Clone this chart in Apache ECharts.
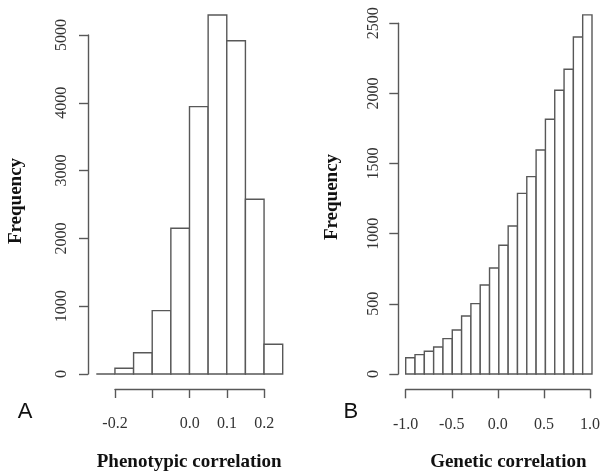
<!DOCTYPE html>
<html lang="en">
<head>
    <meta charset="utf-8">
    <title>Phenotypic and genetic correlation histograms</title>
    <script src="https://cdn.jsdelivr.net/npm/echarts@6/dist/echarts.min.js"></script>
    <style>
        html, body { margin: 0; padding: 0; background: #fff; }
        #chart { width: 603px; height: 476px; }
    </style>
</head>
<body>
<div id="chart"></div>
<script type="text/javascript">
    // panel A: phenotypic correlation, bin starts (width 0.05) and counts
    var phenoStarts = [-0.25, -0.2, -0.15, -0.1, -0.05, 0.0, 0.05, 0.1, 0.15, 0.2];
    var phenoWidth = 0.05;
    var phenoCounts = [0, 85, 314, 934, 2149, 3943, 5295, 4916, 2577, 438];
    var phenoXLabels = [-0.2, 0.0, 0.1, 0.2];   // R dropped -0.1 (overlap)
    var phenoYTicks = [0, 1000, 2000, 3000, 4000, 5000];

    // panel B: genetic correlation, bin starts (width 0.1) and counts
    var genStarts = [-1.0, -0.9, -0.8, -0.7, -0.6, -0.5, -0.4, -0.3, -0.2, -0.1,
                     0.0, 0.1, 0.2, 0.3, 0.4, 0.5, 0.6, 0.7, 0.8, 0.9];
    var genWidth = 0.1;
    var genCounts = [116, 138, 162, 193, 252, 314, 414, 502, 635, 756,
                     918, 1055, 1288, 1407, 1597, 1816, 2023, 2173, 2403, 2560];
    var genXLabels = [-1.0, -0.5, 0.0, 0.5, 1.0];
    var genYTicks = [0, 500, 1000, 1500, 2000, 2500];

    var LINE = '#585858';
    var TXT = '#333';
    var SERIF = '"Liberation Serif", "DejaVu Serif", serif';

    function histData(starts, width, counts) {
        var out = [];
        for (var i = 0; i < starts.length; i++) {
            out.push([starts[i], starts[i] + width, counts[i]]);
        }
        return out;
    }

    function renderBar(params, api) {
        var p0 = api.coord([api.value(0), 0]);
        var p1 = api.coord([api.value(1), api.value(2)]);
        return {
            type: 'rect',
            shape: { x: p0[0], y: p1[1], width: p1[0] - p0[0], height: p0[1] - p1[1] },
            style: { fill: '#fff', stroke: LINE, lineWidth: 1.4 }
        };
    }

    function inList(list, v) {
        return list.some(function (t) { return Math.abs(t - v) < 1e-9; });
    }

    function axisX(gridIndex, min, max, step, labels, offset) {
        return {
            type: 'value', gridIndex: gridIndex, min: min, max: max, interval: step,
            offset: offset, splitLine: { show: false },
            axisLine: { show: true, onZero: false, lineStyle: { color: LINE, width: 1.4 } },
            axisTick: { show: true, length: 9, lineStyle: { color: LINE, width: 1.4 } },
            axisLabel: {
                margin: 27, color: TXT, fontFamily: SERIF, fontSize: 16,
                formatter: function (v) { return inList(labels, v) ? v.toFixed(1) : ''; }
            }
        };
    }

    function axisY(gridIndex, ticks, offset, margin) {
        return {
            type: 'value', gridIndex: gridIndex, min: ticks[0], max: ticks[ticks.length - 1],
            interval: ticks[1] - ticks[0], offset: offset, splitLine: { show: false },
            axisLine: { show: true, onZero: false, lineStyle: { color: LINE, width: 1.4 } },
            axisTick: { show: true, length: 9, lineStyle: { color: LINE, width: 1.4 } },
            axisLabel: {
                rotate: 90, margin: margin, color: TXT, fontFamily: SERIF, fontSize: 16,
                formatter: function (v) { return String(v); }
            }
        };
    }

    function hiddenAxis(gridIndex, min, max) {
        return { type: 'value', gridIndex: gridIndex, min: min, max: max, show: false,
                 splitLine: { show: false } };
    }

    var chart = echarts.init(document.getElementById('chart'), null, { renderer: 'canvas' });
    var option = {
        animation: false,
        backgroundColor: '#fff',
        grid: [
            // 0: panel A data area, 1: panel A axes
            { left: 96.3, right: 320.3, top: 1.1, bottom: 102 },
            { left: 115, right: 338.7, top: 35, bottom: 102 },
            // 2: panel B data area, 3: panel B axes
            { left: 405.7, right: 11, top: 9.3, bottom: 102 },
            { left: 405.7, right: 11, top: 23.3, bottom: 102 }
        ],
        xAxis: [
            hiddenAxis(0, -0.25, 0.25),
            axisX(1, -0.2, 0.2, 0.1, phenoXLabels, 15),
            hiddenAxis(2, -1, 1),
            axisX(3, -1, 1, 0.5, genXLabels, 15.3)
        ],
        yAxis: [
            hiddenAxis(0, 0, 5500),
            axisY(1, phenoYTicks, 27, 18),
            hiddenAxis(2, 0, 2600),
            axisY(3, genYTicks, 7.4, 17)
        ],
        series: [
            { type: 'custom', xAxisIndex: 0, yAxisIndex: 0, clip: false,
              renderItem: renderBar, data: histData(phenoStarts, phenoWidth, phenoCounts) },
            { type: 'custom', xAxisIndex: 2, yAxisIndex: 2, clip: false,
              renderItem: renderBar, data: histData(genStarts, genWidth, genCounts) }
        ],
        graphic: [
            { type: 'text', x: 16.5, y: 201, rotation: Math.PI / 2,
              style: { text: 'Frequency', fill: '#111', font: 'bold 19px ' + SERIF,
                       align: 'center', verticalAlign: 'middle' } },
            { type: 'text', x: 331.7, y: 197, rotation: Math.PI / 2,
              style: { text: 'Frequency', fill: '#111', font: 'bold 19px ' + SERIF,
                       align: 'center', verticalAlign: 'middle' } },
            { type: 'text', x: 189.2, y: 461.7,
              style: { text: 'Phenotypic correlation', fill: '#111', font: 'bold 19px ' + SERIF,
                       align: 'center', verticalAlign: 'middle' } },
            { type: 'text', x: 508.3, y: 461.7,
              style: { text: 'Genetic correlation', fill: '#111', font: 'bold 19px ' + SERIF,
                       align: 'center', verticalAlign: 'middle' } },
            { type: 'text', x: 25, y: 412,
              style: { text: 'A', fill: '#111', font: '22px "Liberation Sans", Arial, sans-serif',
                       align: 'center', verticalAlign: 'middle' } },
            { type: 'text', x: 350.8, y: 412,
              style: { text: 'B', fill: '#111', font: '22px "Liberation Sans", Arial, sans-serif',
                       align: 'center', verticalAlign: 'middle' } }
        ]
    };
    chart.setOption(option);
</script>
</body>
</html>
